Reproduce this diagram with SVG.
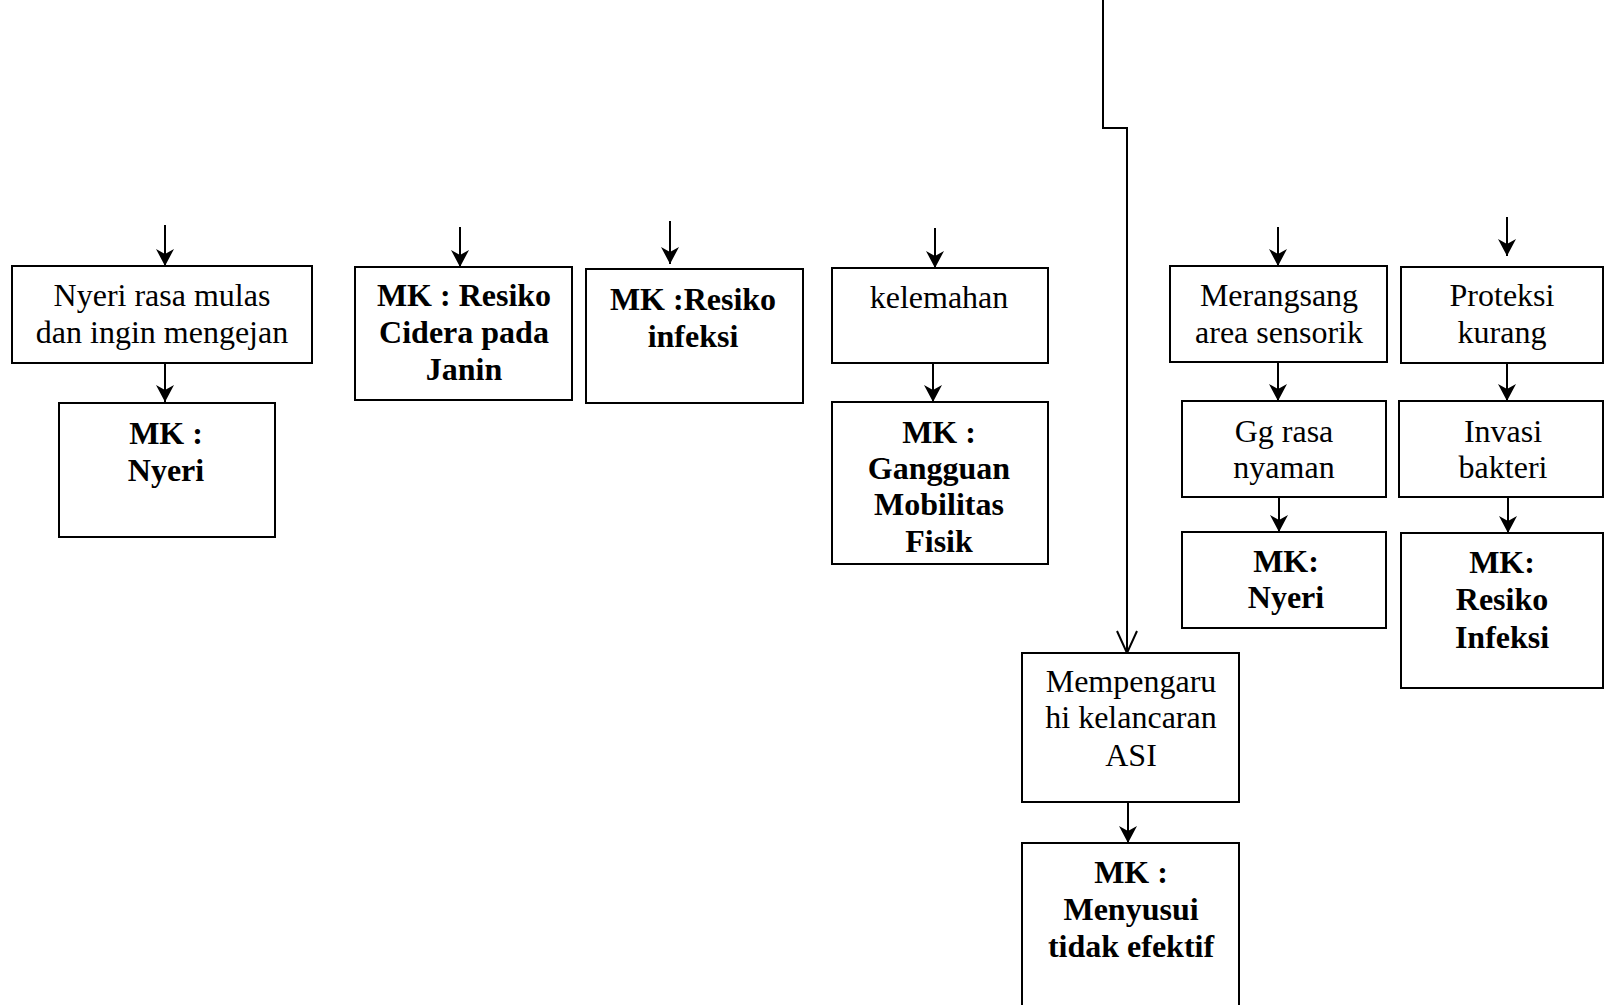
<svg xmlns="http://www.w3.org/2000/svg" width="1604" height="1005" viewBox="0 0 1604 1005">
<style>
.box{fill:#fff;stroke:#000;stroke-width:2}
.t{font-family:"Liberation Serif","Times New Roman",serif;font-size:32px;text-anchor:middle;fill:#000}
.b{font-weight:bold}
.c{fill:none;stroke:#000;stroke-width:2}
</style>
<defs>
<marker id="ah" markerUnits="userSpaceOnUse" markerWidth="22" markerHeight="22" viewBox="-1 -11 20 22" refX="17" refY="0" orient="auto">
<path d="M0,-9 L17,0 L0,9 L5,0 Z" fill="#000"/>
</marker>
<marker id="av" markerUnits="userSpaceOnUse" markerWidth="26" markerHeight="26" viewBox="-2 -12 26 24" refX="22" refY="0" orient="auto">
<path d="M0,-10 L22,0 L0,10" fill="none" stroke="#000" stroke-width="2"/>
</marker>
</defs>
<rect width="1604" height="1005" fill="#fff"/>
<g id="connectors">
<line class="c" x1="165" y1="225" x2="165" y2="266" marker-end="url(#ah)"/>
<line class="c" x1="165" y1="363" x2="165" y2="402" marker-end="url(#ah)"/>
<line class="c" x1="460" y1="227" x2="460" y2="267" marker-end="url(#ah)"/>
<line class="c" x1="670" y1="221" x2="670" y2="264" marker-end="url(#ah)"/>
<line class="c" x1="935" y1="228" x2="935" y2="268" marker-end="url(#ah)"/>
<line class="c" x1="933" y1="363" x2="933" y2="402" marker-end="url(#ah)"/>
<line class="c" x1="1278" y1="227" x2="1278" y2="266" marker-end="url(#ah)"/>
<line class="c" x1="1278" y1="362" x2="1278" y2="401" marker-end="url(#ah)"/>
<line class="c" x1="1279" y1="497" x2="1279" y2="532" marker-end="url(#ah)"/>
<line class="c" x1="1507" y1="217" x2="1507" y2="256" marker-end="url(#ah)"/>
<line class="c" x1="1507" y1="363" x2="1507" y2="401" marker-end="url(#ah)"/>
<line class="c" x1="1508" y1="497" x2="1508" y2="533" marker-end="url(#ah)"/>
<polyline class="c" points="1103,0 1103,128 1127,128 1127,653" marker-end="url(#av)"/>
<line class="c" x1="1128" y1="802" x2="1128" y2="843" marker-end="url(#ah)"/>
</g>
<g id="n1">
<rect class="box" x="12" y="266" width="300" height="97"/>
<text class="t" x="162" y="306">Nyeri rasa mulas</text>
<text class="t" x="162" y="343">dan ingin mengejan</text>
</g>
<g id="n2">
<rect class="box" x="59" y="403" width="216" height="134"/>
<text class="t b" x="166" y="444">MK :</text>
<text class="t b" x="166" y="481">Nyeri</text>
</g>
<g id="n3">
<rect class="box" x="355" y="267" width="217" height="133"/>
<text class="t b" x="464" y="306">MK : Resiko</text>
<text class="t b" x="464" y="343">Cidera pada</text>
<text class="t b" x="464" y="380">Janin</text>
</g>
<g id="n4">
<rect class="box" x="586" y="269" width="217" height="134"/>
<text class="t b" x="693" y="310">MK :Resiko</text>
<text class="t b" x="693" y="347">infeksi</text>
</g>
<g id="n5">
<rect class="box" x="832" y="268" width="216" height="95"/>
<text class="t" x="939" y="308">kelemahan</text>
</g>
<g id="n6">
<rect class="box" x="832" y="402" width="216" height="162"/>
<text class="t b" x="939" y="443">MK :</text>
<text class="t b" x="939" y="479">Gangguan</text>
<text class="t b" x="939" y="515">Mobilitas</text>
<text class="t b" x="939" y="552">Fisik</text>
</g>
<g id="n7">
<rect class="box" x="1170" y="266" width="217" height="96"/>
<text class="t" x="1279" y="306">Merangsang</text>
<text class="t" x="1279" y="343">area sensorik</text>
</g>
<g id="n8">
<rect class="box" x="1182" y="401" width="204" height="96"/>
<text class="t" x="1284" y="442">Gg rasa</text>
<text class="t" x="1284" y="478">nyaman</text>
</g>
<g id="n9">
<rect class="box" x="1182" y="532" width="204" height="96"/>
<text class="t b" x="1286" y="572">MK:</text>
<text class="t b" x="1286" y="608">Nyeri</text>
</g>
<g id="n10">
<rect class="box" x="1401" y="267" width="202" height="96"/>
<text class="t" x="1502" y="306">Proteksi</text>
<text class="t" x="1502" y="343">kurang</text>
</g>
<g id="n11">
<rect class="box" x="1399" y="401" width="204" height="96"/>
<text class="t" x="1503" y="442">Invasi</text>
<text class="t" x="1503" y="478">bakteri</text>
</g>
<g id="n12">
<rect class="box" x="1401" y="533" width="202" height="155"/>
<text class="t b" x="1502" y="573">MK:</text>
<text class="t b" x="1502" y="610">Resiko</text>
<text class="t b" x="1502" y="648">Infeksi</text>
</g>
<g id="n13">
<rect class="box" x="1022" y="653" width="217" height="149"/>
<text class="t" x="1131" y="692">Mempengaru</text>
<text class="t" x="1131" y="728">hi kelancaran</text>
<text class="t" x="1131" y="766">ASI</text>
</g>
<g id="n14">
<rect class="box" x="1022" y="843" width="217" height="175"/>
<text class="t b" x="1131" y="883">MK :</text>
<text class="t b" x="1131" y="920">Menyusui</text>
<text class="t b" x="1131" y="957">tidak efektif</text>
</g>
</svg>
